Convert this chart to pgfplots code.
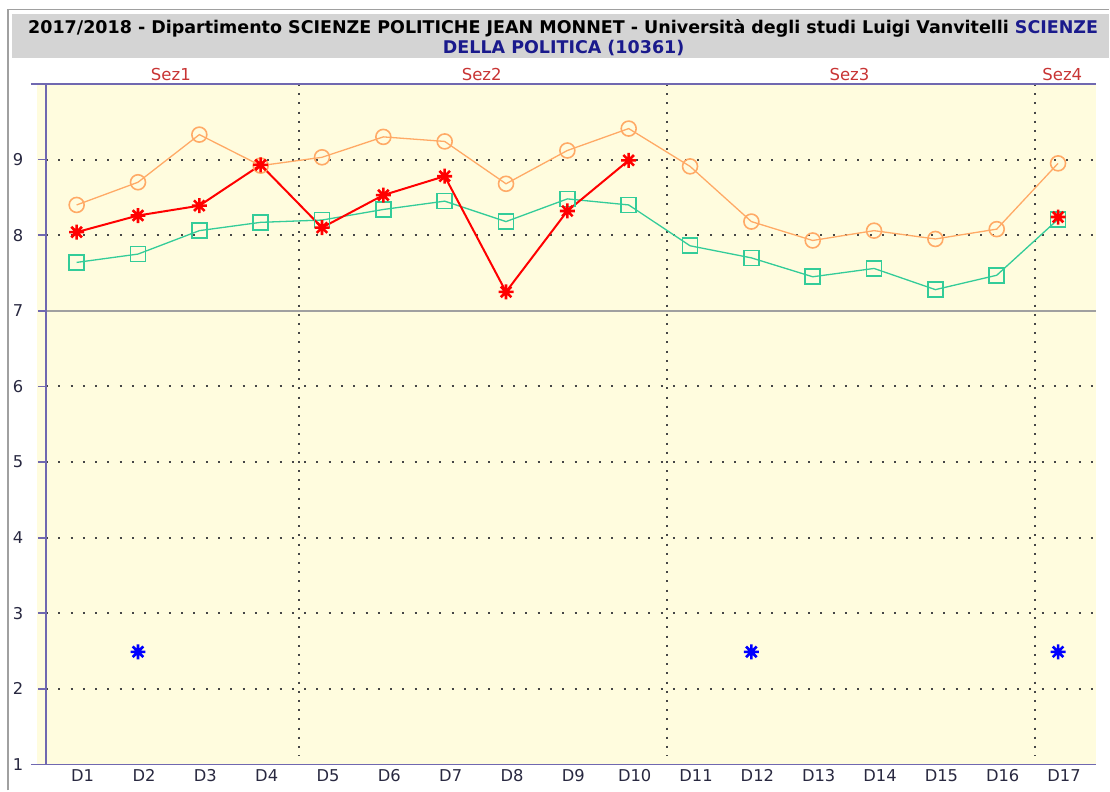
\documentclass[border=0pt]{standalone}
\usepackage{fontspec}
\setmainfont{DejaVu Sans}
\usepackage{pgfplots}
\usepackage{pgfplotstable}
\pgfplotsset{compat=1.18}
\usetikzlibrary{plotmarks}

\definecolor{bgyellow}{RGB}{255,252,222}
\definecolor{titlegrey}{RGB}{212,212,212}
\definecolor{framegrey}{RGB}{160,160,160}
\definecolor{titleblue}{RGB}{26,26,140}
\definecolor{axiscol}{RGB}{112,104,176}
\definecolor{lblcol}{RGB}{40,40,64}
\definecolor{sezcol}{RGB}{200,52,52}
\definecolor{dotcol}{RGB}{70,70,70}
\definecolor{sevencol}{RGB}{160,160,160}
\definecolor{corange}{RGB}{255,170,102}
\definecolor{cred}{RGB}{255,0,0}
\definecolor{cgreen}{RGB}{51,204,153}
\definecolor{cblue}{RGB}{0,0,255}

\pgfdeclareplotmark{star8}{%
  \pgfpathmoveto{\pgfqpoint{-\pgfplotmarksize}{0pt}}%
  \pgfpathlineto{\pgfqpoint{\pgfplotmarksize}{0pt}}%
  \pgfpathmoveto{\pgfqpoint{0pt}{-\pgfplotmarksize}}%
  \pgfpathlineto{\pgfqpoint{0pt}{\pgfplotmarksize}}%
  \pgfpathmoveto{\pgfqpoint{-0.7071\pgfplotmarksize}{-0.7071\pgfplotmarksize}}%
  \pgfpathlineto{\pgfqpoint{0.7071\pgfplotmarksize}{0.7071\pgfplotmarksize}}%
  \pgfpathmoveto{\pgfqpoint{-0.7071\pgfplotmarksize}{0.7071\pgfplotmarksize}}%
  \pgfpathlineto{\pgfqpoint{0.7071\pgfplotmarksize}{-0.7071\pgfplotmarksize}}%
  \pgfusepathqstroke}

\newcommand{\titlefont}{\bfseries\fontsize{17.5}{21}\selectfont}
\newcommand{\lblfont}{\fontsize{16.3}{19}\selectfont}

\pgfplotstableread{
x y
1 8.40
2 8.70
3 9.33
4 8.92
5 9.03
6 9.30
7 9.24
8 8.68
9 9.12
10 9.41
11 8.91
12 8.18
13 7.93
14 8.06
15 7.95
16 8.08
17 8.95
}\orangedata

\pgfplotstableread{
x y
1 7.64
2 7.75
3 8.06
4 8.17
5 8.20
6 8.34
7 8.45
8 8.18
9 8.48
10 8.40
11 7.86
12 7.70
13 7.45
14 7.56
15 7.28
16 7.47
17 8.21
}\greendata

\pgfplotstableread{
x y
1 8.04
2 8.26
3 8.39
4 8.93
5 8.10
6 8.53
7 8.78
8 7.25
9 8.32
10 8.99
11 nan
12 nan
13 nan
14 nan
15 nan
16 nan
17 8.24
}\reddata

\pgfplotstableread{
x y
2 2.49
12 2.49
17 2.49
}\bluedata

\begin{document}
\begin{tikzpicture}[x=1pt,y=1pt]
\fill[titlegrey] (12,-14) rectangle (1110,-58);
\draw[framegrey, line width=1.5pt] (8,-791) -- (8,-9.5) -- (1110,-9.5);
\node[anchor=base, font=\titlefont, inner sep=0pt] at (563.5,-33.3) {2017/2018 - Dipartimento SCIENZE POLITICHE JEAN MONNET - Università degli studi Luigi Vanvitelli \textcolor{titleblue}{SCIENZE}};
\node[anchor=base, font=\titlefont, text=titleblue, inner sep=0pt] at (564,-54) {DELLA POLITICA (10361)};
\begin{axis}[
  at={(37pt,-765pt)}, anchor=south west,
  scale only axis, width=1060pt, height=681pt,
  xmin=0.353, xmax=17.623, ymin=1, ymax=10,
  axis background/.style={fill=bgyellow},
  axis line style={draw=none},
  major tick length=0pt,
  xtick={1,...,17},
  xticklabels={D1,D2,D3,D4,D5,D6,D7,D8,D9,D10,D11,D12,D13,D14,D15,D16,D17},
  ytick={1,...,9},
  yticklabels={1,2,3,4,5,6,7,8,9},
  xticklabel style={font=\lblfont, text=lblcol, xshift=6pt, inner sep=2pt, yshift=-3pt},
  yticklabel style={font=\lblfont, text=lblcol, anchor=center, xshift=-19pt},
  clip=false,
  unbounded coords=jump,
]
% grid
\draw[dotcol, line width=2pt, dash pattern=on 2pt off 10.3pt] (axis cs:0.5,2) -- (axis cs:17.623,2);
\draw[dotcol, line width=2pt, dash pattern=on 2pt off 10.3pt] (axis cs:0.5,3) -- (axis cs:17.623,3);
\draw[dotcol, line width=2pt, dash pattern=on 2pt off 10.3pt] (axis cs:0.5,4) -- (axis cs:17.623,4);
\draw[dotcol, line width=2pt, dash pattern=on 2pt off 10.3pt] (axis cs:0.5,5) -- (axis cs:17.623,5);
\draw[dotcol, line width=2pt, dash pattern=on 2pt off 10.3pt] (axis cs:0.5,6) -- (axis cs:17.623,6);
\draw[dotcol, line width=2pt, dash pattern=on 2pt off 10.3pt] (axis cs:0.5,8) -- (axis cs:17.623,8);
\draw[dotcol, line width=2pt, dash pattern=on 2pt off 10.3pt] (axis cs:0.5,9) -- (axis cs:17.623,9);
\draw[sevencol, line width=1.5pt] (axis cs:0.5,7) -- (axis cs:17.623,7);
\draw[dotcol, line width=2pt, dash pattern=on 2pt off 7.2pt] (axis cs:4.63,10) -- (axis cs:4.63,1.106);
\draw[dotcol, line width=2pt, dash pattern=on 2pt off 7.2pt] (axis cs:10.63,10) -- (axis cs:10.63,1.106);
\draw[dotcol, line width=2pt, dash pattern=on 2pt off 7.2pt] (axis cs:16.63,10) -- (axis cs:16.63,1.106);
% axis lines
\draw[axiscol, line width=1.8pt] (axis cs:0.2555,10) -- (axis cs:17.623,10);
\draw[axiscol, line width=1.8pt] (axis cs:0.2555,1) -- (axis cs:17.623,1);
\draw[axiscol, line width=1.8pt] (axis cs:0.5,1) -- (axis cs:0.5,10);
\draw[axiscol, line width=1.8pt] (axis cs:0.3695,2) -- (axis cs:0.5,2);
\draw[axiscol, line width=1.8pt] (axis cs:0.3695,3) -- (axis cs:0.5,3);
\draw[axiscol, line width=1.8pt] (axis cs:0.3695,4) -- (axis cs:0.5,4);
\draw[axiscol, line width=1.8pt] (axis cs:0.3695,5) -- (axis cs:0.5,5);
\draw[axiscol, line width=1.8pt] (axis cs:0.3695,6) -- (axis cs:0.5,6);
\draw[axiscol, line width=1.8pt] (axis cs:0.3695,7) -- (axis cs:0.5,7);
\draw[axiscol, line width=1.8pt] (axis cs:0.3695,8) -- (axis cs:0.5,8);
\draw[axiscol, line width=1.8pt] (axis cs:0.3695,9) -- (axis cs:0.5,9);
% section labels
\node[anchor=base, font=\fontsize{16.5}{19}\selectfont, text=sezcol, inner sep=0pt] at (axis cs:2.536,10.04) {Sez1};
\node[anchor=base, font=\fontsize{16.5}{19}\selectfont, text=sezcol, inner sep=0pt] at (axis cs:7.603,10.04) {Sez2};
\node[anchor=base, font=\fontsize{16.5}{19}\selectfont, text=sezcol, inner sep=0pt] at (axis cs:13.6,10.04) {Sez3};
\node[anchor=base, font=\fontsize{16.5}{19}\selectfont, text=sezcol, inner sep=0pt] at (axis cs:17.07,10.04) {Sez4};
% data
\addplot[color=corange, line width=1.3pt, mark=o, mark size=7.5pt, mark options={line width=1.6pt}] table {\orangedata};
\addplot[color=cgreen, line width=1.3pt, mark=square, mark size=7.5pt, mark options={line width=1.6pt}] table {\greendata};
\addplot[color=cred, line width=2pt, mark=star8, mark size=7.5pt, mark options={line width=2.6pt}] table {\reddata};
\addplot[color=cblue, only marks, mark=star8, mark size=7.5pt, mark options={line width=2.6pt}] table {\bluedata};
\end{axis}
\path (0,0) rectangle (1110,-791);
\end{tikzpicture}
\end{document}
